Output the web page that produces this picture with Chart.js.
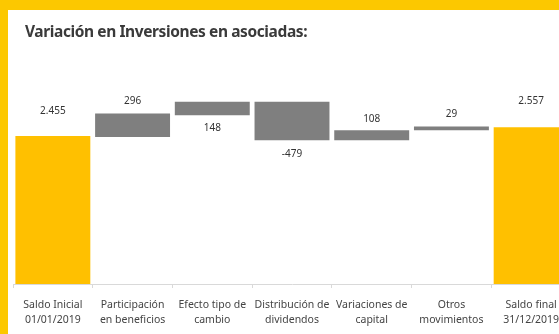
<!DOCTYPE html>
<html>
<head>
<meta charset="utf-8">
<script src="https://cdn.jsdelivr.net/npm/chart.js@4"></script>
<style>
  html, body { margin: 0; padding: 0; background: #fff; overflow: hidden; width: 559px; height: 334px; }
  #wrap { position: absolute; left: 0; top: 0; width: 580px; height: 334px; }
  #topband { position: absolute; left: 0; top: 0; width: 559px; height: 10px; background: #fcc800; }
  #leftband { position: absolute; left: 0; top: 0; width: 8px; height: 334px; background: #fcc800; }
  #title { position: absolute; left: 25px; top: 20px; font: bold 15.5px "Noto Sans", sans-serif; color: #3a3a3a; letter-spacing: -0.4px; }
</style>
</head>
<body>
<div id="wrap"><canvas id="waterfall"></canvas></div>
<div id="topband"></div>
<div id="leftband"></div>
<div id="title">Variación en Inversiones en asociadas:</div>
<script>
var categorias = [
  ["Saldo Inicial", "01/01/2019"],
  ["Participación", "en beneficios"],
  ["Efecto tipo de", "cambio"],
  ["Distribución de", "dividendos"],
  ["Variaciones de", "capital"],
  ["Otros", "movimientos"],
  ["Saldo final", "31/12/2019"]
];
// valores mostrados en las etiquetas
var etiquetas = ["2.455", "296", "148", "-479", "108", "29", "2.557"];
// tramos de cada barra tal como se ven en el grafico
var desde = [0, 2440, 2800, 2385, 2385, 2550, 0];
var hasta = [2455, 2830, 3025, 3025, 2550, 2615, 2600];

var amarillo = "#ffc000";
var gris = "#7f7f7f";

var tramos = [];
var colores = [];
for (var i in desde) {
  tramos.push([desde[i], hasta[i]]);
  colores.push(i == 0 || i == desde.length - 1 ? amarillo : gris);
}

// arriba (+) o abajo (-) de la barra, en px
var offsetEtiqueta = [25, 12, -13, -14, 11, 12, 26];

var etiquetasPlugin = {
  id: "etiquetas",
  afterDatasetsDraw: function(chart) {
    var ctx = chart.ctx;
    var meta = chart.getDatasetMeta(0);
    ctx.save();
    ctx.font = "10px 'Noto Sans', sans-serif";
    ctx.fillStyle = "#333";
    ctx.textAlign = "center";
    ctx.textBaseline = "middle";
    meta.data.forEach(function(bar, i) {
      var top = Math.min(bar.y, bar.base);
      var bottom = Math.max(bar.y, bar.base);
      var off = offsetEtiqueta[i];
      var y = off > 0 ? top - off : bottom - off;
      ctx.fillText(etiquetas[i], bar.x, y);
    });
    ctx.restore();
  }
};

new Chart(document.getElementById("waterfall"), {
  type: "bar",
  data: {
    labels: categorias,
    datasets: [{
      data: tramos,
      backgroundColor: colores,
      borderWidth: 0,
      barPercentage: 0.94,
      categoryPercentage: 1
    }]
  },
  options: {
    responsive: true,
    maintainAspectRatio: false,
    animation: false,
    layout: { padding: { left: 13, right: 9, top: 61, bottom: -4 } },
    plugins: {
      legend: { display: false },
      tooltip: { enabled: false }
    },
    scales: {
      x: {
        grid: { display: true, drawOnChartArea: false, drawTicks: true, tickLength: 4, color: "#d9d9d9" },
        border: { display: true, color: "#d9d9d9" },
        ticks: {
          color: "#444",
          padding: 10,
          maxRotation: 0,
          autoSkip: false,
          font: { family: "'Noto Sans', sans-serif", size: 10.5, lineHeight: "15px" }
        }
      },
      y: {
        display: false,
        min: 0,
        max: 3700
      }
    }
  },
  plugins: [etiquetasPlugin]
});
</script>
</body>
</html>
